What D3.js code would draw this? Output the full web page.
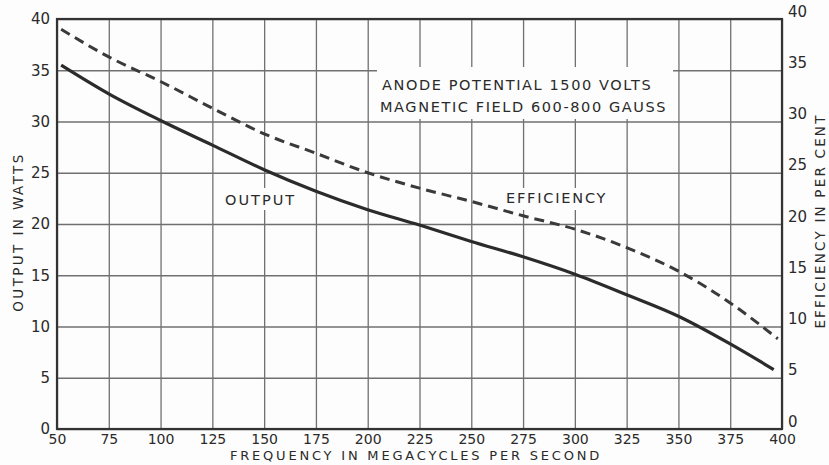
<!DOCTYPE html>
<html>
<head>
<meta charset="utf-8">
<script src="https://cdn.jsdelivr.net/npm/d3@7"></script>
<style>
  body { margin: 0; background: #fdfdfd; }
  text { font-family: "DejaVu Sans", sans-serif; fill: #2a2a2a; }
</style>
</head>
<body>
<script>
// values
var freqTicks = [50,75,100,125,150,175,200,225,250,275,300,325,350,375,400];
var yTicks = [0,5,10,15,20,25,30,35,40];

var outFreq = [52,75,100,125,150,175,200,225,250,275,300,325,350,375,396];
var outWatts = [35.5,32.7,30.1,27.7,25.3,23.2,21.4,19.9,18.3,16.8,15.1,13.1,11.0,8.3,5.8];

var effFreq = [52,75,100,125,150,175,200,225,250,275,300,325,350,375,398];
var effPct = [39.0,36.3,33.9,31.3,28.8,26.9,25.0,23.5,22.2,20.8,19.5,17.7,15.4,12.3,8.8];

var width = 829, height = 465;
var pLeft = 57, pRight = 782, pTop = 19, pBottom = 429;

var svg = d3.select('body')
            .append('svg')
            .attr('width', width)
            .attr('height', height)

var x = d3.scaleLinear().domain([50,400]).range([pLeft,pRight]);
var yL = d3.scaleLinear().domain([0,40]).range([pBottom,pTop]);
var yR = d3.scaleLinear().domain([0,40]).range([pBottom,pTop]);

// grid
svg.append('g')
   .attr('transform','translate(0,'+pBottom+')')
   .call(d3.axisBottom(x).tickValues(freqTicks).tickSize(-(pBottom-pTop)).tickFormat(''))
   .call(function(g){ g.select('.domain').remove(); })
   .selectAll('line').attr('stroke','#707070').attr('stroke-width',1.3);

svg.append('g')
   .attr('transform','translate('+pLeft+',0)')
   .call(d3.axisLeft(yL).tickValues(yTicks).tickSize(-(pRight-pLeft)).tickFormat(''))
   .call(function(g){ g.select('.domain').remove(); })
   .selectAll('line').attr('stroke','#707070').attr('stroke-width',1.3);

// white boxes behind the notes
var boxes = [[377,67,296,52],[219,188,82,22],[500,188,113,22]];
svg.selectAll('rect.box')
   .data(boxes)
   .enter()
   .append('rect')
   .attr('class','box')
   .attr('x',function(d){return d[0];})
   .attr('y',function(d){return d[1];})
   .attr('width',function(d){return d[2];})
   .attr('height',function(d){return d[3];})
   .attr('fill','#fdfdfd')

// frame
svg.append('rect')
   .attr('x',pLeft).attr('y',pTop)
   .attr('width',pRight-pLeft).attr('height',pBottom-pTop)
   .attr('fill','none').attr('stroke','#333').attr('stroke-width',2.2)

// tick labels
var axB = svg.append('g')
   .attr('transform','translate(0,'+pBottom+')')
   .call(d3.axisBottom(x).tickValues(freqTicks).tickSize(0).tickPadding(5))
axB.select('.domain').remove();
axB.selectAll('text').attr('font-size',14).attr('font-family','DejaVu Sans, sans-serif').attr('fill','#2a2a2a');

var axL = svg.append('g')
   .attr('transform','translate('+pLeft+',0)')
   .call(d3.axisLeft(yL).tickValues(yTicks).tickSize(0).tickPadding(7))
axL.select('.domain').remove();
axL.selectAll('text').attr('font-size',15).attr('font-family','DejaVu Sans, sans-serif').attr('fill','#2a2a2a');

var axR = svg.append('g')
   .attr('transform','translate('+pRight+',0)')
   .call(d3.axisRight(yR).tickValues(yTicks).tickSize(0).tickPadding(6))
axR.select('.domain').remove();
axR.selectAll('text').attr('font-size',15).attr('font-family','DejaVu Sans, sans-serif').attr('fill','#2a2a2a')
   .attr('dy','-0.2em');

// curves
var outLine = d3.line()
    .x(function(d,i){return x(outFreq[i]);})
    .y(function(d){return yL(d);})
    .curve(d3.curveMonotoneX);
var effLine = d3.line()
    .x(function(d,i){return x(effFreq[i]);})
    .y(function(d){return yR(d);})
    .curve(d3.curveMonotoneX);

svg.append('path')
   .attr('fill','none').attr('stroke','#2b2b2b').attr('stroke-width',3.2)
   .attr('d',outLine(outWatts))
svg.append('path')
   .attr('fill','none').attr('stroke','#3a3a3a').attr('stroke-width',3)
   .attr('stroke-dasharray','10,6')
   .attr('d',effLine(effPct))

// notes
svg.append('text').attr('x',382).attr('y',90).attr('font-size',14.5).attr('letter-spacing',1.6)
   .text('ANODE POTENTIAL  1500 VOLTS');
svg.append('text').attr('x',380).attr('y',112).attr('font-size',14.5).attr('letter-spacing',1.6)
   .text('MAGNETIC FIELD  600-800 GAUSS');
svg.append('text').attr('x',225).attr('y',205).attr('font-size',14.5).attr('letter-spacing',2)
   .text('OUTPUT');
svg.append('text').attr('x',506).attr('y',203).attr('font-size',14.5).attr('letter-spacing',1.8)
   .text('EFFICIENCY');

// axis titles
svg.append('text').attr('x',416).attr('y',460).attr('text-anchor','middle')
   .attr('font-size',13).attr('letter-spacing',2.8)
   .text('FREQUENCY IN MEGACYCLES PER SECOND');
svg.append('text').attr('transform','translate(23,232) rotate(-90)').attr('text-anchor','middle')
   .attr('font-size',13.5).attr('letter-spacing',2.4)
   .text('OUTPUT IN WATTS');
svg.append('text').attr('transform','translate(825,221) rotate(-90)').attr('text-anchor','middle')
   .attr('font-size',13.5).attr('letter-spacing',2.2)
   .text('EFFICIENCY IN PER CENT');
</script>
</body>
</html>
